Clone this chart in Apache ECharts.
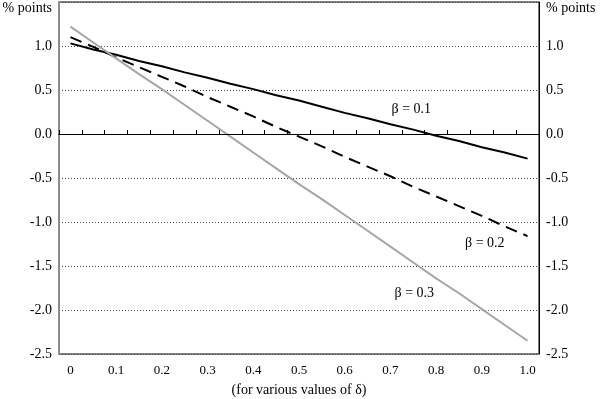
<!DOCTYPE html>
<html>
<head>
<meta charset="utf-8">
<script src="https://cdn.jsdelivr.net/npm/echarts@6/dist/echarts.min.js"></script>
<style>
  html, body { margin: 0; padding: 0; background: #fff; }
  #chart { width: 600px; height: 399px; }
</style>
</head>
<body>
<div id="chart"></div>
<script>
// delta values (categories, step 0.05)
const deltas = ['0', '0.05', '0.1', '0.15', '0.2', '0.25', '0.3', '0.35', '0.4', '0.45', '0.5',
  '0.55', '0.6', '0.65', '0.7', '0.75', '0.8', '0.85', '0.9', '0.95', '1.0'];

// % points
const beta01 = [1.03, 0.96, 0.90, 0.83, 0.77, 0.70, 0.64, 0.57, 0.51, 0.44, 0.38,
  0.31, 0.24, 0.18, 0.11, 0.05, -0.02, -0.08, -0.15, -0.21, -0.28];
const beta02 = [1.10, 0.99, 0.87, 0.76, 0.65, 0.54, 0.42, 0.31, 0.20, 0.08, -0.03,
  -0.14, -0.26, -0.37, -0.48, -0.60, -0.71, -0.82, -0.93, -1.05, -1.16];
const beta03 = [1.22, 1.04, 0.86, 0.68, 0.51, 0.33, 0.15, -0.03, -0.21, -0.39, -0.57,
  -0.74, -0.92, -1.10, -1.28, -1.46, -1.64, -1.81, -1.99, -2.17, -2.35];

const yMin = -2.5, yMax = 1.5, yStep = 0.5;
const unitLabel = '% points';
const xTitle = '(for various values of δ)';

const FONT = '"Liberation Serif", "DejaVu Serif", serif';

const yLabelFmt = v => (Math.abs(v - yMax) < 1e-6 ? '{u|' + unitLabel + '}' : v.toFixed(1));

const makeYAxis = (pos) => ({
  type: 'value',
  position: pos,
  min: yMin,
  max: yMax,
  interval: yStep,
  axisLine: pos === 'left'
    ? { show: true, lineStyle: { color: '#8c8c8c', width: 2 } }
    : { show: true, lineStyle: { color: '#000', width: 1 } },
  axisTick: { show: false },
  splitLine: pos === 'left'
    ? { show: true, lineStyle: { color: '#444', type: [1, 2], width: 1 } }
    : { show: false },
  axisLabel: {
    margin: 7,
    color: '#000',
    fontFamily: FONT,
    fontSize: 14,
    formatter: yLabelFmt,
    rich: { u: { fontFamily: FONT, fontSize: 14, color: '#000', padding: [12, 0, 0, 0] } }
  }
});

const betaLabel = (text, coord, offset) => ({
  symbol: 'circle',
  symbolSize: 0,
  silent: true,
  data: [{
    coord: coord,
    label: {
      show: true,
      position: 'inside',
      offset: offset,
      formatter: text,
      color: '#000',
      fontFamily: FONT,
      fontSize: 14
    }
  }]
});

const chart = echarts.init(document.getElementById('chart'), null, { renderer: 'canvas' });

chart.setOption({
  backgroundColor: '#fff',
  animation: false,
  grid: {
    left: 59, right: 61, top: 2, bottom: 45,
    outerBoundsMode: 'none',
    containLabel: false,
    show: true, borderColor: '#000', borderWidth: 1
  },
  xAxis: {
    type: 'category',
    data: deltas,
    boundaryGap: true,
    name: xTitle,
    nameLocation: 'middle',
    nameGap: 29,
    nameTextStyle: { color: '#000', fontFamily: FONT, fontSize: 14 },
    axisLine: { show: true, lineStyle: { color: '#000', width: 1 } },
    axisTick: { show: true, inside: true, length: 4, interval: 0, lineStyle: { color: '#000' } },
    axisLabel: { interval: 1, margin: 10, color: '#000', fontFamily: FONT, fontSize: 13 },
    splitLine: { show: false }
  },
  yAxis: [makeYAxis('left'), makeYAxis('right')],
  series: [
    {
      name: 'β = 0.1',
      type: 'line',
      data: beta01,
      symbol: 'none',
      lineStyle: { color: '#000', width: 2 },
      markLine: {
        silent: true,
        symbol: 'none',
        label: { show: false },
        lineStyle: { color: '#000', width: 1, type: 'solid' },
        data: [{ yAxis: 0 }]
      },
      markPoint: betaLabel('β = 0.1', ['0.75', 0.28], [-2, 0])
    },
    {
      name: 'β = 0.2',
      type: 'line',
      data: beta02,
      symbol: 'none',
      lineStyle: { color: '#000', width: 2, type: [12, 7] },
      markPoint: betaLabel('β = 0.2', ['0.9', -1.24], [3, 0])
    },
    {
      name: 'β = 0.3',
      type: 'line',
      data: beta03,
      symbol: 'none',
      lineStyle: { color: '#a6a6a6', width: 2 },
      markPoint: betaLabel('β = 0.3', ['0.75', -1.81], [1, 0])
    }
  ]
});
</script>
</body>
</html>
